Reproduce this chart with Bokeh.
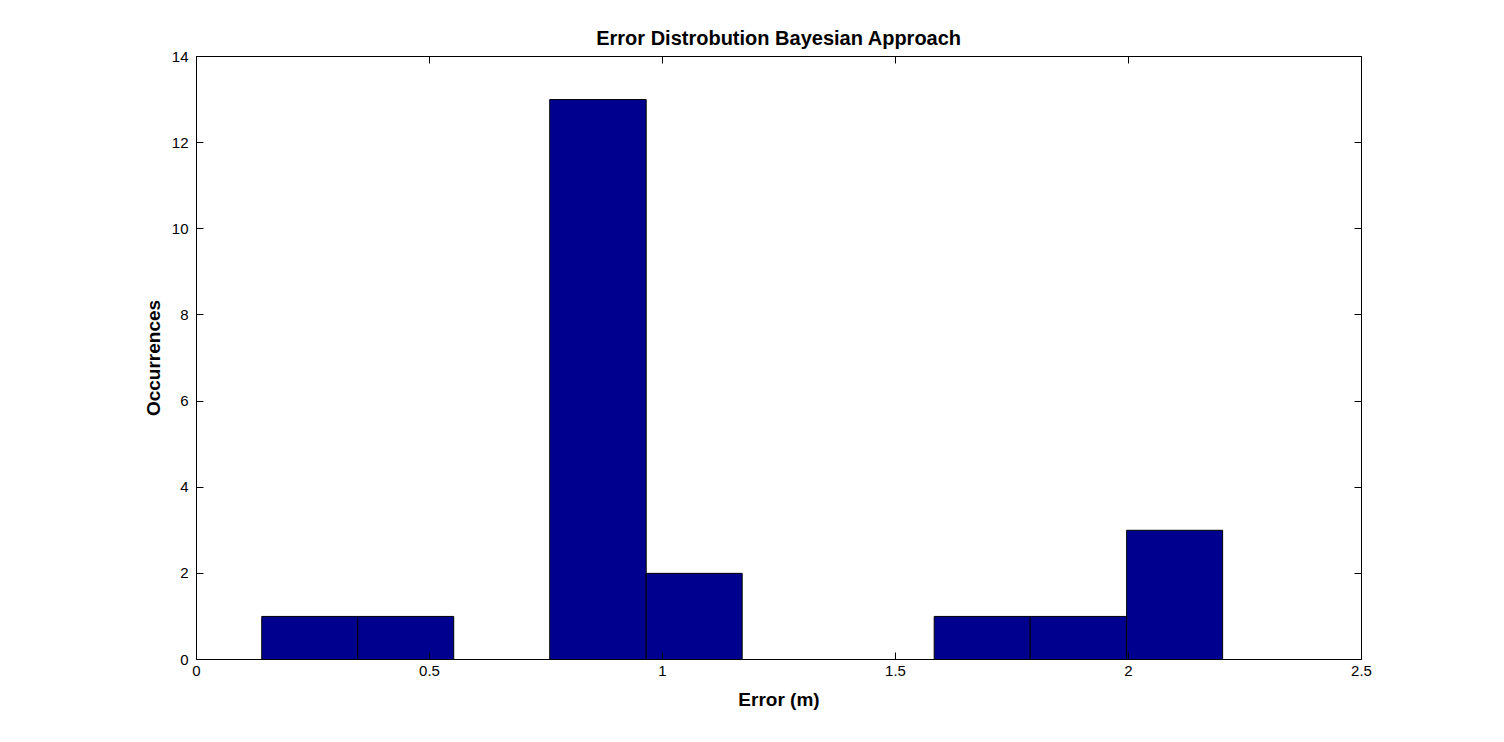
from bokeh.plotting import figure
from bokeh.models import LinearAxis, FixedTicker, Range1d
from bokeh.embed import file_html
from bokeh.resources import INLINE

# Histogram data
bin_edges = [0.140, 0.346, 0.552, 0.758, 0.965, 1.171, 1.377, 1.583, 1.789, 1.996, 2.202]
counts = [1, 1, 0, 13, 2, 0, 0, 1, 1, 3]
x_ticks = [0, 0.5, 1, 1.5, 2, 2.5]
y_ticks = [0, 2, 4, 6, 8, 10, 12, 14]

FONT = "Liberation Sans"

p = figure(frame_width=1165, frame_height=603,
           x_range=Range1d(0, 2.5), y_range=Range1d(0, 14),
           output_backend="svg", toolbar_location=None,
           min_border_left=196, min_border_right=135,
           min_border_top=56, min_border_bottom=75,
           title="Error Distrobution Bayesian Approach")

lefts = [bin_edges[i] for i in range(len(counts)) if counts[i] > 0]
rights = [bin_edges[i + 1] for i in range(len(counts)) if counts[i] > 0]
tops = [c for c in counts if c > 0]
p.quad(left=lefts, right=rights, bottom=0, top=tops,
       fill_color="#00008F", line_color="black", line_width=1)

p.title.align = "center"
p.title.text_font = FONT
p.title.text_font_size = "20px"
p.title.text_font_style = "bold"
p.title.text_color = "black"
p.title.offset = 0
p.title.standoff = 16

p.xgrid.visible = False
p.ygrid.visible = False
p.outline_line_color = "black"
p.outline_line_width = 1

def style(ax, ticks):
    ax.ticker = FixedTicker(ticks=ticks)
    ax.axis_line_color = "black"
    ax.major_tick_in = 7
    ax.major_tick_out = 0
    ax.minor_tick_line_color = None
    ax.major_tick_line_color = "black"
    ax.major_label_text_font = FONT
    ax.major_label_text_font_size = "15px"
    ax.major_label_text_color = "black"
    ax.axis_label_text_font = FONT
    ax.axis_label_text_font_size = "19px"
    ax.axis_label_text_font_style = "bold"
    ax.axis_label_text_color = "black"

style(p.xaxis[0], x_ticks)
style(p.yaxis[0], y_ticks)
p.xaxis[0].axis_label = "Error (m)"
p.yaxis[0].axis_label = "Occurrences"
p.xaxis[0].major_label_standoff = 6
p.yaxis[0].major_label_standoff = 8
p.xaxis[0].axis_label_standoff = 10
p.yaxis[0].axis_label_standoff = 5

top_ax = LinearAxis()
style(top_ax, x_ticks)
top_ax.major_label_text_color = None
top_ax.major_label_text_font_size = "0px"
right_ax = LinearAxis()
style(right_ax, y_ticks)
right_ax.major_label_text_color = None
right_ax.major_label_text_font_size = "0px"
p.add_layout(top_ax, "above")
p.add_layout(right_ax, "right")

open("out.html", "w").write(file_html(p, INLINE))
